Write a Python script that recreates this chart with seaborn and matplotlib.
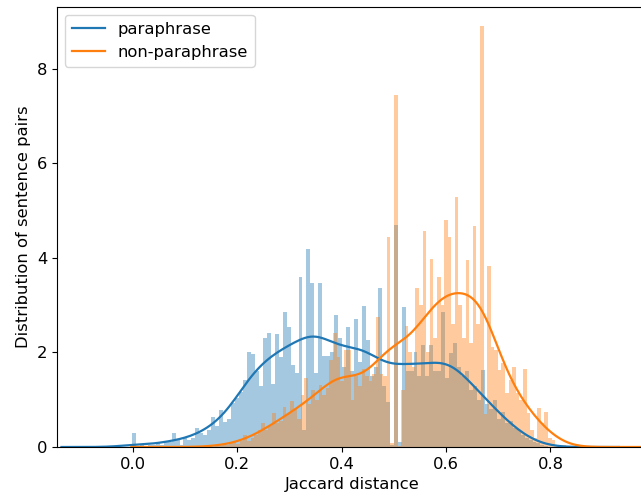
import numpy as np
import pandas as pd
import matplotlib
matplotlib.use("Agg")
import matplotlib.pyplot as plt
import seaborn as sns

# -------------------------
# Data (density per bin)
# -------------------------
# paraphrase pairs: 105 bins, width 0.0076, first edge at -0.002
para_start = -0.002
para_width = 0.0076
para_heights = [
    0.30, 0.00, 0.04, 0.00, 0.05, 0.05, 0.10, 0.05, 0.10, 0.10,
    0.30, 0.15, 0.05, 0.20, 0.15, 0.20, 0.40, 0.30, 0.25, 0.35,
    0.63, 0.45, 0.78, 0.52, 0.60, 0.93, 1.03, 1.17, 1.42, 2.00,
    1.97, 1.60, 1.30, 2.30, 2.42, 1.33, 2.40, 1.90, 2.86, 2.53,
    1.74, 1.56, 3.60, 0.35, 4.20, 3.47, 1.56, 3.47, 1.93, 1.93,
    2.00, 2.80, 2.30, 1.70, 2.53, 1.60, 2.70, 1.80, 2.98, 2.26,
    1.50, 1.70, 3.36, 1.30, 0.96, 0.05, 4.70, 0.10, 2.97, 1.60,
    1.60, 2.00, 1.50, 2.16, 1.50, 2.16, 1.60, 1.60, 2.86, 1.45,
    1.98, 2.20, 1.70, 1.50, 1.60, 1.20, 1.30, 1.00, 1.63, 0.90,
    0.80, 1.00, 0.60, 0.75, 0.50, 0.55, 0.40, 0.35, 0.25, 0.20,
    0.15, 0.10, 0.08, 0.05, 0.03,
]

# non-paraphrase pairs: 100 bins, width 0.00687, first edge at 0.1428
nonpara_start = 0.1428
nonpara_width = 0.00687
nonpara_heights = [
    0.02, 0.00, 0.03, 0.03, 0.05, 0.04, 0.08, 0.10, 0.06, 0.12,
    0.25, 0.12, 0.19, 0.25, 0.36, 0.50, 0.35, 0.45, 0.71, 0.50,
    0.55, 0.85, 0.70, 0.98, 0.80, 0.60, 1.10, 1.46, 0.90, 1.20,
    1.00, 1.31, 1.10, 1.25, 1.84, 2.41, 1.90, 1.40, 2.05, 2.05,
    1.00, 1.50, 1.30, 1.64, 1.50, 1.40, 1.55, 2.76, 1.55, 1.50,
    4.45, 0.08, 7.45, 0.02, 1.20, 2.55, 2.00, 1.70, 3.36, 3.00,
    4.58, 2.00, 3.98, 2.30, 3.60, 3.00, 4.80, 4.45, 2.60, 5.30,
    3.00, 2.30, 3.96, 2.20, 4.68, 2.60, 8.90, 0.70, 3.84, 2.12,
    2.05, 1.63, 1.77, 1.14, 1.42, 1.70, 1.14, 1.00, 1.66, 0.71,
    0.36, 0.18, 0.82, 0.50, 0.75, 0.20, 0.15, 0.05, 0.03, 0.04,
]

series = [
    ("paraphrase", para_start, para_width, para_heights, "#1f77b4", 0.20),
    ("non-paraphrase", nonpara_start, nonpara_width, nonpara_heights, "#ff7f0e", 0.25),
]

# -------------------------
# Plot
# -------------------------
plt.rcParams["font.family"] = ["DejaVu Sans"]
plt.rcParams["font.size"] = 11.8

fig = plt.figure(figsize=(6.41, 5.0), dpi=100)
ax = fig.add_axes([57 / 641, 53 / 500, 590 / 641, 440 / 500])

for label, start, width, heights, color, bw in series:
    n = len(heights)
    edges = [start + width * i for i in range(n + 1)]
    df = pd.DataFrame({
        "dist": [e + width / 2 for e in edges[:-1]],
        "height": heights,
    })
    sns.histplot(data=df, x="dist", weights="height", bins=edges,
                 stat="count", color=color, alpha=0.4, linewidth=0, ax=ax)
    sns.kdeplot(data=df, x="dist", weights="height", bw_method=bw,
                color=color, linewidth=1.6, label=label, ax=ax)

ax.set_xlim(-0.1456, 0.985)
ax.set_ylim(0, 9.31)
ax.set_xticks([0.0, 0.2, 0.4, 0.6, 0.8])
ax.set_yticks([0, 2, 4, 6, 8])
ax.set_xlabel("Jaccard distance")
ax.set_ylabel("Distribution of sentence pairs")
ax.legend(loc="upper left")

plt.savefig("out.png", dpi=100)
